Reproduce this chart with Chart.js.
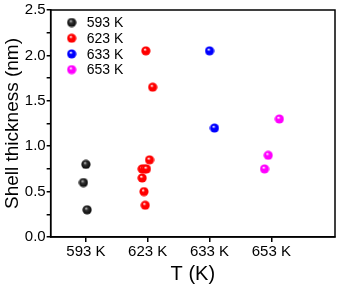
<!DOCTYPE html>
<html>
<head>
<meta charset="utf-8">
<script src="https://cdn.jsdelivr.net/npm/chart.js@4/dist/chart.umd.min.js"></script>
<style>
  html, body { margin: 0; padding: 0; background: #fff; }
  #wrap { width: 341px; height: 286px; }
</style>
</head>
<body>
<div id="wrap"><canvas id="grafico" width="341" height="286"></canvas></div>
<script>
// categorias del eje x
const categorias = ['593 K', '623 K', '633 K', '653 K'];
const yTicks = [0.0, 0.5, 1.0, 1.5, 2.0, 2.5];

// valores (x = posicion de la categoria, algo desplazada)
const x593 = [1.00, 0.96, 1.02];
const y593 = [0.80, 0.60, 0.30];
const x623 = [1.97, 2.08, 2.03, 1.91, 1.95, 1.98, 1.91, 1.94, 1.96];
const y623 = [2.05, 1.65, 0.85, 0.75, 0.75, 0.75, 0.65, 0.50, 0.35];
const x633 = [3.00, 3.08];
const y633 = [2.05, 1.20];
const x653 = [4.13, 3.95, 3.89];
const y653 = [1.30, 0.90, 0.75];

const colores = ['#000000', '#ff0000', '#0000ff', '#ff00ff'];
const FUENTE = '"Liberation Sans", Arial, sans-serif';

// bolitas con brillo
function bolita(color) {
    const c = document.createElement('canvas');
    c.width = 10; c.height = 10;
    const g = c.getContext('2d');
    const negro = color === '#000000';
    const grad = g.createRadialGradient(4, 3.5, 0.3, 5, 5, 5);
    grad.addColorStop(0, negro ? '#bbbbbb' : '#ffffff');
    grad.addColorStop(0.3, negro ? '#333333' : color);
    grad.addColorStop(1, negro ? '#000000' : color);
    g.fillStyle = grad;
    g.beginPath();
    g.arc(5, 5, 4.6, 0, Math.PI * 2);
    g.fill();
    return c;
}

function puntos(xs, ys) {
    return xs.map((x, i) => ({ x: x, y: ys[i] }));
}

const series = [
    { label: '593 K', data: puntos(x593, y593) },
    { label: '623 K', data: puntos(x623, y623) },
    { label: '633 K', data: puntos(x633, y633) },
    { label: '653 K', data: puntos(x653, y653) }
].map((s, i) => ({
    label: s.label,
    data: s.data,
    pointStyle: bolita(colores[i]),
    pointRadius: 5,
    showLine: false
}));

// marco y leyenda dentro del area
const marco = {
    id: 'marco',
    afterDraw(chart) {
        const ctx = chart.ctx;
        const a = chart.chartArea;
        ctx.save();
        ctx.strokeStyle = '#000';
        ctx.lineWidth = 1.5;
        ctx.strokeRect(a.left, a.top, a.right - a.left, a.bottom - a.top);
        ctx.font = '14px ' + FUENTE;
        ctx.textBaseline = 'middle';
        ctx.fillStyle = '#000';
        chart.data.datasets.forEach((ds, i) => {
            const y = a.top + 12.5 + i * 15.7;
            ctx.drawImage(ds.pointStyle, a.left + 16, y - 5);
            ctx.fillText(ds.label, a.left + 36, y + 1);
        });
        ctx.restore();
    }
};

new Chart(document.getElementById('grafico'), {
    type: 'scatter',
    data: { datasets: series },
    options: {
        responsive: false,
        animation: false,
        layout: { padding: { top: 5, right: 1, left: 1, bottom: 0 } },
        plugins: { legend: { display: false }, tooltip: { enabled: false } },
        scales: {
            x: {
                type: 'linear',
                min: 0.43,
                max: 5.03,
                afterBuildTicks: (axis) => { axis.ticks = [1, 2, 3, 4].map(v => ({ value: v })); },
                ticks: {
                    color: '#000',
                    font: { size: 15, family: FUENTE },
                    padding: 1,
                    maxRotation: 0,
                    callback: (v) => categorias[Math.round(v) - 1]
                },
                grid: { drawOnChartArea: false, color: '#000', tickLength: 5, lineWidth: 1.5 },
                border: { color: '#000', width: 1.5 },
                title: {
                    display: true,
                    text: 'T (K)',
                    color: '#000',
                    font: { size: 20, family: FUENTE },
                    padding: { top: 0, bottom: 0 }
                }
            },
            y: {
                min: 0,
                max: 2.5,
                ticks: {
                    stepSize: 0.25,
                    color: '#000',
                    font: { size: 15, family: FUENTE },
                    padding: 1,
                    callback: (v) => (Math.round(v * 4) % 2 === 0 ? yTicks[Math.round(v * 2)].toFixed(1) : '')
                },
                grid: { drawOnChartArea: false, color: '#000', tickLength: 4, lineWidth: 1.5 },
                border: { color: '#000', width: 1.5 },
                title: {
                    display: true,
                    text: 'Shell thickness (nm)',
                    color: '#000',
                    font: { size: 19, family: FUENTE },
                    padding: { top: 0, bottom: 0 }
                }
            }
        }
    },
    plugins: [marco]
});
</script>
</body>
</html>
